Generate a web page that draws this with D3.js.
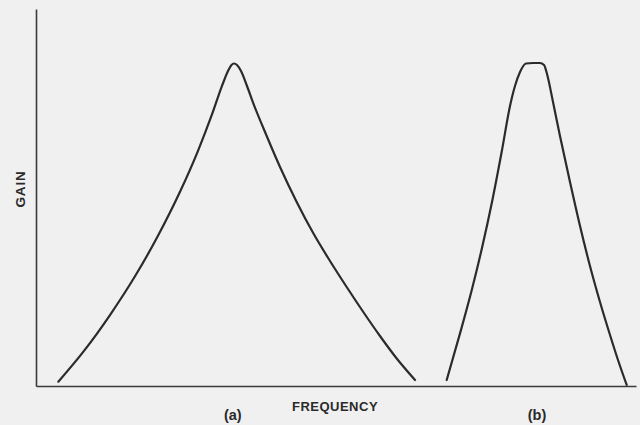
<!DOCTYPE html>
<html>
<head>
<meta charset="utf-8">
<script src="https://cdn.jsdelivr.net/npm/d3@7"></script>
<style>
  html, body { margin: 0; padding: 0; background: #f0f0f0; }
  svg { display: block; }
</style>
</head>
<body>
<svg id="chart" width="640" height="425"></svg>
<script>
// Curve (a): broad peak — frequency / gain (arbitrary units 0–100)
const curveAFreq = [3.72, 8.0, 12.33, 16.5, 20.33, 24.0, 27.0, 29.33, 31.0, 32.0, 32.58, 33.0, 33.5, 34.17, 35.17, 36.22, 38.45, 40.67, 43.45, 46.22, 49.0, 51.78, 54.55, 57.33, 60.12, 63.17];
const curveAGain = [1.14, 9.31, 18.83, 29.1, 39.84, 51.51, 62.39, 72.04, 79.6, 83.55, 85.15, 85.54, 85.15, 83.55, 79.58, 74.99, 66.31, 58.09, 48.81, 40.5, 33.16, 26.26, 19.63, 13.26, 7.29, 1.59];
// Curve (b): narrow flat-topped peak
const curveBFreq = [68.45, 70.67, 72.67, 74.33, 76.0, 77.67, 79.0, 79.83, 80.67, 81.67, 82.83, 84.0, 84.67, 85.17, 86.17, 87.33, 89.0, 90.67, 92.33, 94.0, 95.67, 97.0, 98.45];
const curveBGain = [1.59, 13.95, 25.73, 36.6, 48.81, 62.6, 74.27, 79.58, 83.29, 85.54, 85.68, 85.68, 85.15, 82.76, 75.33, 66.31, 54.11, 42.44, 31.83, 22.28, 13.53, 6.9, 0.27];

const axisXLabel = "FREQUENCY";
const axisYLabel = "GAIN";
const curveLabels = ["(a)", "(b)"];
const curveLabelFreq = [32.8, 83.5];

const svg = d3.select("#chart");
const x = d3.scaleLinear().domain([0, 100]).range([36, 636]);
const y = d3.scaleLinear().domain([0, 100]).range([386, 9]);

svg.append("rect").attr("width", 640).attr("height", 425).attr("fill", "#f0f0f0");

const ax = svg.append("g").attr("transform", `translate(0,${y(0)})`)
  .call(d3.axisBottom(x).tickValues([]).tickSizeOuter(0));
ax.select(".domain").attr("stroke", "#3a3a3a").attr("stroke-width", 1.6);

const ay = svg.append("g").attr("transform", `translate(${x(0)},0)`)
  .call(d3.axisLeft(y).tickValues([]).tickSizeOuter(0));
ay.select(".domain").attr("stroke", "#3a3a3a").attr("stroke-width", 1.6);

const line = d3.line()
  .x(d => x(d[0])).y(d => y(d[1]))
  .curve(d3.curveMonotoneX);

const dataA = curveAFreq.map((f, i) => [f, curveAGain[i]]);
const dataB = curveBFreq.map((f, i) => [f, curveBGain[i]]);

[dataA, dataB].forEach(d => {
  svg.append("path").datum(d)
    .attr("d", line)
    .attr("fill", "none")
    .attr("stroke", "#2b2b2b")
    .attr("stroke-width", 2.2)
    .attr("stroke-linecap", "round")
    .attr("stroke-linejoin", "round");
});

const font = "'Liberation Sans', Arial, sans-serif";

svg.append("text")
  .attr("x", 335).attr("y", 411)
  .attr("text-anchor", "middle")
  .attr("font-family", font).attr("font-weight", "bold")
  .attr("font-size", 13).attr("letter-spacing", 0.5)
  .attr("fill", "#2a2a2a")
  .text(axisXLabel);

svg.append("text")
  .attr("transform", "translate(24.5,189) rotate(-90)")
  .attr("text-anchor", "middle")
  .attr("font-family", font).attr("font-weight", "bold")
  .attr("font-size", 13.5).attr("letter-spacing", 0.8)
  .attr("fill", "#2a2a2a")
  .text(axisYLabel);

curveLabels.forEach((t, i) => {
  svg.append("text")
    .attr("x", x(curveLabelFreq[i])).attr("y", 420)
    .attr("text-anchor", "middle")
    .attr("font-family", font).attr("font-weight", "bold")
    .attr("font-size", 14.5)
    .attr("fill", "#2a2a2a")
    .text(t);
});
</script>
</body>
</html>
